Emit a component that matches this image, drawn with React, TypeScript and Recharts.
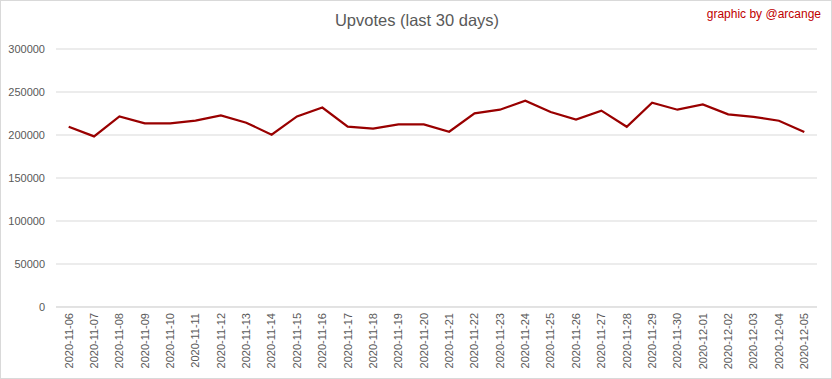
import { LineChart, Line, XAxis, YAxis, CartesianGrid } from 'recharts';

const dates = [
  '2020-11-06', '2020-11-07', '2020-11-08', '2020-11-09', '2020-11-10',
  '2020-11-11', '2020-11-12', '2020-11-13', '2020-11-14', '2020-11-15',
  '2020-11-16', '2020-11-17', '2020-11-18', '2020-11-19', '2020-11-20',
  '2020-11-21', '2020-11-22', '2020-11-23', '2020-11-24', '2020-11-25',
  '2020-11-26', '2020-11-27', '2020-11-28', '2020-11-29', '2020-11-30',
  '2020-12-01', '2020-12-02', '2020-12-03', '2020-12-04', '2020-12-05',
];

const upvotes = [
  209600, 198400, 221600, 213500, 213500, 216600, 222800, 214300, 200300, 221600,
  232000, 209600, 207300, 212300, 212300, 203800, 225100, 229400, 239900, 226700,
  217900, 228300, 209600, 237600, 229400, 235600, 224000, 221200, 216600, 203500,
];

const yTicks = [0, 50000, 100000, 150000, 200000, 250000, 300000];

const data = dates.map((date, i) => ({ date, upvotes: upvotes[i] }));

const DateTick = (props: any) => {
  const { x, y, payload } = props;
  return (
    <text
      x={x}
      y={y}
      transform={`rotate(-90, ${x}, ${y})`}
      textAnchor="end"
      dy="0.35em"
      fill="#595959"
      fontSize={11}
    >
      {payload.value}
    </text>
  );
};

export default function App() {
  return (
    <div
      style={{
        position: 'absolute',
        top: 0,
        left: 0,
        width: 832,
        height: 379,
        border: '1px solid #d9d9d9',
        boxSizing: 'border-box',
        background: '#fff',
        fontFamily: '"Liberation Sans", Arial, sans-serif',
      }}
    >
      <div
        style={{
          position: 'absolute',
          top: 10,
          left: 0,
          width: 832,
          textAlign: 'center',
          fontSize: 16.5,
          color: '#595959',
        }}
      >
        Upvotes (last 30 days)
      </div>
      <div
        style={{
          position: 'absolute',
          top: 6,
          right: 10,
          fontSize: 12,
          color: '#c00000',
        }}
      >
        graphic by @arcange
      </div>
      <div style={{ position: 'absolute', top: -1, left: -1 }}>
        <LineChart
          width={832}
          height={379}
          data={data}
          margin={{ top: 49, right: 15, bottom: 0, left: 0 }}
        >
          <CartesianGrid vertical={false} stroke="#d9d9d9" />
          <XAxis
            dataKey="date"
            interval={0}
            height={72}
            padding={{ left: 12.7, right: 12.7 }}
            tickLine={false}
            tickSize={0}
            tick={<DateTick />}
            tickMargin={6}
            axisLine={{ stroke: '#d9d9d9' }}
          />
          <YAxis
            width={56}
            domain={[0, 300000]}
            ticks={yTicks}
            interval={0}
            axisLine={false}
            tickLine={false}
            tickSize={0}
            tickMargin={11}
            tick={{ fill: '#595959', fontSize: 11 }}
          />
          <Line
            type="linear"
            dataKey="upvotes"
            stroke="#990000"
            strokeWidth={2.25}
            dot={false}
            isAnimationActive={false}
          />
        </LineChart>
      </div>
    </div>
  );
}
